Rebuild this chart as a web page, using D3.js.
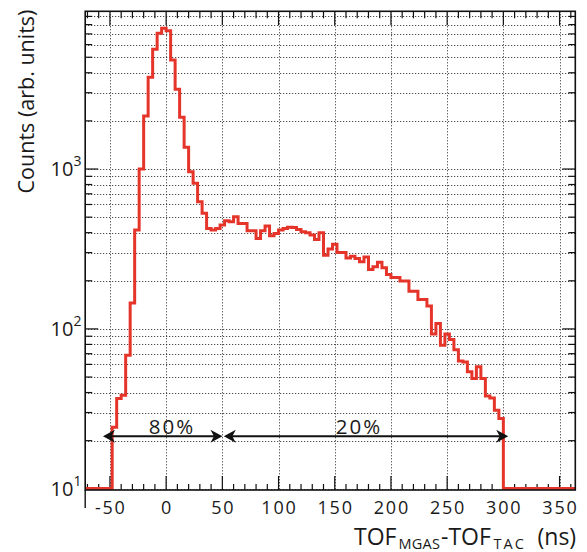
<!DOCTYPE html>
<html>
<head>
<meta charset="utf-8">
<script src="https://cdn.jsdelivr.net/npm/d3@7"></script>
<style>
  html, body { margin: 0; padding: 0; background: #fff; }
  svg { display: block; }
  text { font-family: "Open Sans", "Noto Sans", sans-serif; fill: #1a1a1a; }
</style>
</head>
<body>
<svg id="chart" width="587" height="552"></svg>
<script>
// ---------------- data ----------------
const binWidth = 4;                       // ns
const histLow = -72, histHigh = 364;      // histogram / axis range (ns)
const binEdges = d3.range(histLow, histHigh, binWidth); // lower edges of bins
// counts per bin (arb. units); zeros outside the TOF window
const counts = [
  0, 0, 0, 0, 0, 0,
  24.3, 36.7, 38.5, 68.4, 145, 415, 1000, 2148, 3750, 5620, 7070, 7600,
  7310, 4810, 3155, 2108, 1367, 962, 814, 624, 528, 425, 415, 425,
  446, 474, 468, 502, 457, 457, 411, 411, 368, 411, 440, 382,
  395, 415, 425, 432, 430, 419, 405, 399, 386, 362, 399, 289,
  316, 338, 301, 301, 278, 285, 276, 263, 282, 235, 245, 261,
  241, 219, 210, 210, 199, 199, 172, 172, 153, 153, 139, 93,
  108, 79, 93, 86, 74, 63, 62, 54, 49, 58, 49, 38,
  37, 31, 27.5,
  0, 0, 0, 0, 0, 0, 0, 0, 0, 0, 0, 0, 0, 0, 0, 0
];
const xMajorTicks = [-50, 0, 50, 100, 150, 200, 250, 300, 350];
const xMinorTicks = d3.range(-70, 364, 10);
const yMajorTicks = [10, 100, 1000];
const yMajorLabels = ["1", "2", "3"];      // exponents of 10
const yMinorTicks = [20, 30, 40, 50, 60, 70, 80, 90,
                     200, 300, 400, 500, 600, 700, 800, 900,
                     2000, 3000, 4000, 5000, 6000, 7000, 8000, 9000];
// annotation arrows (ns range, y level) and labels
const arrowFrom = [-56.2, 51.3];
const arrowTo   = [50.1, 304.3];
const arrowY    = 21.3;
const arrowLabels = ["80%", "20%"];
const arrowLabelX = [5.2, 171.6];
const yDomain = [9.83, 9690];
// x-axis title pieces: [text, isSubscript, x position in px]
const xTitleParts = [["TOF", false, 354], ["MGAS", true, 398.6], ["-TOF", false, 441],
                     ["TAC", true, 493.5], ["(ns)", false, 537.5]];

// ---------------- layout ----------------
const svg = d3.select("#chart");
const x = d3.scaleLinear().domain([histLow, histHigh]).range([85.2, 575.3]);
const y = d3.scaleLog().domain(yDomain).range([490, 11.3]);
const [L, R] = x.range();
const [B, T] = y.range();

// grid
const grid = svg.append("g").attr("stroke", "#222").attr("stroke-width", 1)
  .attr("stroke-dasharray", "1,2").attr("fill", "none");
grid.selectAll("line.vx").data(xMajorTicks).join("line")
  .attr("x1", d => Math.round(x(d)) + 0.5).attr("x2", d => Math.round(x(d)) + 0.5)
  .attr("y1", T).attr("y2", B);
grid.selectAll("line.hy").data(yMajorTicks.concat(yMinorTicks)).join("line")
  .attr("x1", L).attr("x2", R)
  .attr("y1", d => Math.round(y(d)) + 0.5).attr("y2", d => Math.round(y(d)) + 0.5);

// ticks
const ticks = svg.append("g").attr("stroke", "#111").attr("stroke-width", 1.2);
xMajorTicks.forEach(d => {
  ticks.append("line").attr("x1", x(d)).attr("x2", x(d)).attr("y1", B).attr("y2", B - 14);
  ticks.append("line").attr("x1", x(d)).attr("x2", x(d)).attr("y1", T).attr("y2", T + 14);
});
xMinorTicks.filter(d => !xMajorTicks.includes(d)).forEach(d => {
  ticks.append("line").attr("x1", x(d)).attr("x2", x(d)).attr("y1", B).attr("y2", B - 6);
  ticks.append("line").attr("x1", x(d)).attr("x2", x(d)).attr("y1", T).attr("y2", T + 7);
});
yMajorTicks.forEach(d => {
  ticks.append("line").attr("x1", L).attr("x2", L + 13).attr("y1", y(d)).attr("y2", y(d));
  ticks.append("line").attr("x1", R).attr("x2", R - 13).attr("y1", y(d)).attr("y2", y(d));
});
yMinorTicks.forEach(d => {
  ticks.append("line").attr("x1", L).attr("x2", L + 7).attr("y1", y(d)).attr("y2", y(d));
  ticks.append("line").attr("x1", R).attr("x2", R - 7).attr("y1", y(d)).attr("y2", y(d));
});

// histogram
const pts = binEdges.map((e, i) => [e, counts[i]]);
pts.push([binEdges[binEdges.length - 1] + binWidth, counts[counts.length - 1]]);
const line = d3.line()
  .x(d => x(d[0]))
  .y(d => d[1] > 0 ? y(d[1]) : B - 1.5)
  .curve(d3.curveStepAfter);
svg.append("path").attr("d", line(pts))
  .attr("fill", "none").attr("stroke", "#e5352a").attr("stroke-width", 3)
  .attr("stroke-linejoin", "miter").attr("stroke-linecap", "butt");

// frame
svg.append("rect").attr("x", L).attr("y", T).attr("width", R - L).attr("height", B - T)
  .attr("fill", "none").attr("stroke", "#111").attr("stroke-width", 1.6);
svg.append("line").attr("x1", L).attr("x2", L).attr("y1", B).attr("y2", B + 18)
  .attr("stroke", "#111").attr("stroke-width", 1.4);

// x tick labels
svg.append("g").selectAll("text").data(xMajorTicks).join("text")
  .attr("x", d => x(d) + 0.9).attr("y", 513.5)
  .attr("text-anchor", "middle").attr("font-size", 18).attr("letter-spacing", 1.8)
  .text(d => d);

// y tick labels
yMajorTicks.forEach((d, i) => {
  const t = svg.append("text").attr("x", 81.5).attr("y", y(d) + 7)
    .attr("text-anchor", "end").attr("font-size", 20);
  t.append("tspan").text("10");
  t.append("tspan").attr("font-size", 14).attr("dy", -10).text(yMajorLabels[i]);
});

// axis titles
xTitleParts.forEach(([txt, sub, px]) => {
  svg.append("text").attr("x", px).attr("y", sub ? 548.5 : 544.8)
    .attr("font-size", sub ? 14.5 : 23)
    .attr("letter-spacing", sub ? (txt.length === 3 ? 2 : 0.2) : 0)
    .text(txt);
});

svg.append("text")
  .attr("transform", "translate(34,101.5) rotate(-90)")
  .attr("text-anchor", "middle").attr("font-size", 21.5)
  .text("Counts (arb. units)");

// arrows
const ay = y(arrowY);
const arrows = svg.append("g");
function head(tipX, dir) {
  // dir = -1 points left, +1 points right
  const len = 12, half = 6.5, notch = 3.5;
  const p = [[tipX, ay], [tipX - dir * len, ay - half], [tipX - dir * (len - notch), ay],
             [tipX - dir * len, ay + half]];
  arrows.append("path").attr("d", "M" + p.map(q => q.join(",")).join("L") + "Z")
    .attr("fill", "#111");
}
arrowFrom.forEach((a, i) => {
  arrows.append("line").attr("x1", x(a) + 4).attr("x2", x(arrowTo[i]) - 4)
    .attr("y1", ay).attr("y2", ay).attr("stroke", "#111").attr("stroke-width", 2);
  head(x(a), -1);
  head(x(arrowTo[i]), 1);
  svg.append("text").attr("x", x(arrowLabelX[i])).attr("y", ay - 2)
    .attr("text-anchor", "middle").attr("font-size", 20.5).attr("letter-spacing", 2)
    .text(arrowLabels[i]);
});
</script>
</body>
</html>
